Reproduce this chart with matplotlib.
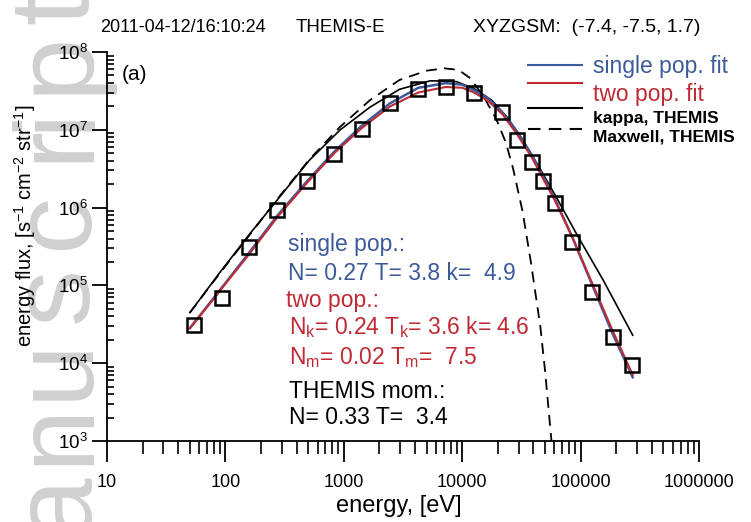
import numpy as np
import matplotlib
matplotlib.use("Agg")
import matplotlib.pyplot as plt
from matplotlib.lines import Line2D

plt.rcParams['font.family'] = ['Liberation Sans', 'DejaVu Sans']
plt.rcParams['mathtext.default'] = 'regular'

# ---------------- data ----------------
meas_energy = [54, 93, 158, 273, 489, 826, 1426, 2455, 4236, 7295, 12590,
               21680, 28840, 38900, 47860, 60260, 85110, 125900, 186200, 269200]
meas_flux = [3.1e4, 6.9e4, 3.1e5, 9.3e5, 2.2e6, 4.9e6, 1.02e7, 2.2e7, 3.3e7,
             3.55e7, 2.95e7, 1.7e7, 7.4e6, 3.9e6, 2.2e6, 1.15e6, 3.6e5,
             8.3e4, 2.2e4, 9.5e3]

fit_loge = [1.70, 1.85, 2.0, 2.2, 2.44, 2.69, 2.92, 3.15, 3.39, 3.63, 3.86,
            4.0, 4.1, 4.22, 4.34, 4.46, 4.59, 4.68, 4.78, 4.93, 5.1, 5.27, 5.44]
two_pop_logf = [4.45, 4.73, 5.02, 5.40, 5.88, 6.32, 6.70, 7.02, 7.30, 7.48,
                7.55, 7.54, 7.48, 7.37, 7.20, 6.95, 6.64, 6.38, 6.10, 5.62,
                5.02, 4.42, 3.85]
single_pop_logf = [4.45, 4.74, 5.03, 5.42, 5.90, 6.34, 6.72, 7.05, 7.34, 7.54,
                   7.60, 7.58, 7.51, 7.40, 7.22, 6.98, 6.67, 6.41, 6.12, 5.62,
                   5.00, 4.38, 3.82]

kappa_loge = [1.70, 1.95, 2.21, 2.46, 2.71, 2.97, 3.22, 3.47, 3.73, 3.95, 4.1,
              4.25, 4.38, 4.5, 4.65, 4.8, 4.97, 5.19, 5.44]
kappa_logf = [4.65, 5.16, 5.67, 6.14, 6.61, 7.00, 7.29, 7.52, 7.63, 7.62, 7.53,
              7.38, 7.16, 6.90, 6.52, 6.12, 5.65, 5.07, 4.36]

maxw_loge = [1.70, 1.95, 2.21, 2.46, 2.71, 2.97, 3.22, 3.47, 3.70, 3.85, 3.97,
             4.07, 4.18, 4.29, 4.37, 4.43, 4.51, 4.58, 4.66, 4.70, 4.76]
maxw_logf = [4.65, 5.15, 5.66, 6.15, 6.62, 7.04, 7.38, 7.64, 7.76, 7.79, 7.77,
             7.66, 7.43, 7.13, 6.83, 6.50, 5.95, 5.30, 4.47, 3.90, 2.90]

x_ticks = [10, 100, 1000, 10000, 100000, 1000000]
x_ticklabels = ['10', '100', '1000', '10000', '100000', '1000000']

title_parts = ['2011-04-12/16:10:24', 'THEMIS-E', 'XYZGSM:  (-7.4, -7.5, 1.7)']
legend_labels = ['single pop. fit', 'two pop. fit', 'kappa, THEMIS', 'Maxwell, THEMIS']
info_lines = ['single pop.:', 'N= 0.27 T= 3.8 k=  4.9', 'two pop.:',
              'N$_k$= 0.24 T$_k$= 3.6 k= 4.6', 'N$_m$= 0.02 T$_m$=  7.5',
              'THEMIS mom.:', 'N= 0.33 T=  3.4']

BLUE = '#3d5b9b'
RED = '#c02a35'

W, H = 751, 522
fig = plt.figure(figsize=(W / 100, H / 100), dpi=100)


def fx(px):
    return px / W


def fy(py):
    return 1 - py / H


# watermark (behind everything)
wm_letters = ['a', 'n', 'u', 's', 'c', 'r', 'i', 'p', 't']
wm_centers = [505, 433, 368, 295, 221, 143, 118, 62, 8]
for ch, cy in zip(wm_letters, wm_centers):
    fig.text(fx(87), fy(cy), ch, rotation=90, rotation_mode='anchor',
             ha='center', va='baseline', fontsize=82, color='#d0d0d0',
             zorder=-5)

ax = fig.add_axes([fx(107), fy(441), fx(699) - fx(107), fy(52) - fy(441)])
ax.patch.set_alpha(0)
ax.set_zorder(2)
ax.set_xscale('log')
ax.set_yscale('log')
ax.set_xlim(10, 1e6)
ax.set_ylim(1e3, 1e8)

ax.plot(10 ** np.array(kappa_loge), 10 ** np.array(kappa_logf), color='black', lw=1.2)
ax.plot(10 ** np.array(maxw_loge), 10 ** np.array(maxw_logf), color='black', lw=1.3,
        dashes=(6, 4))
ax.plot(10 ** np.array(fit_loge), 10 ** np.array(single_pop_logf), color=BLUE, lw=1.8)
ax.plot(10 ** np.array(fit_loge), 10 ** np.array(two_pop_logf), color=RED, lw=1.5)
ax.plot(meas_energy, meas_flux, 's', ms=10, mfc='none', mec='black', mew=1.8)

for s in ['top', 'right']:
    ax.spines[s].set_visible(False)
for s in ['left', 'bottom']:
    ax.spines[s].set_linewidth(1.3)

ax.set_xticks(x_ticks)
ax.set_xticklabels(x_ticklabels)
ax.tick_params(axis='x', which='major', direction='out', length=15, width=1.3,
               pad=9, labelsize=13)
ax.tick_params(axis='x', which='minor', direction='out', length=9.5, width=1.2)
ax.tick_params(axis='y', which='major', direction='out', length=11, width=1.3,
               pad=3, labelsize=13.5)
ax.tick_params(axis='y', which='minor', direction='in', length=5, width=1.2)
ax.yaxis.set_minor_locator(matplotlib.ticker.LogLocator(base=10, subs=np.arange(2, 10), numticks=20))
ax.xaxis.set_minor_locator(matplotlib.ticker.LogLocator(base=10, subs=np.arange(2, 10), numticks=20))
ax.xaxis.set_minor_formatter(matplotlib.ticker.NullFormatter())
ax.yaxis.set_minor_formatter(matplotlib.ticker.NullFormatter())

# title
fig.text(fx(100), fy(28), title_parts[0], ha='left', va='center', fontsize=13)
fig.text(fx(340), fy(28), title_parts[1], ha='center', va='center', fontsize=13.5)
fig.text(fx(700), fy(28), title_parts[2], ha='right', va='center', fontsize=14)

# axis labels
fig.text(fx(25), fy(226), 'energy flux, [s$^{-1}$ cm$^{-2}$ str$^{-1}$]', rotation=90,
         ha='center', va='center', fontsize=14.5)
fig.text(fx(399), fy(506), 'energy, [eV]', ha='center', va='center', fontsize=17)

fig.text(fx(122), fy(75), '(a)', ha='left', va='center', fontsize=15)

# legend
leg_line_y = [65, 83, 108, 129]
leg_text_y = [67, 94, 118, 137]
leg_colors = [BLUE, RED, 'black', 'black']
leg_styles = ['-', '-', '-', '--']
leg_sizes = [16.5, 16.5, 12.5, 12.5]
leg_weights = ['normal', 'normal', 'bold', 'bold']
for lab, ly, ty, c, ls, fs, fw in zip(legend_labels, leg_line_y, leg_text_y, leg_colors,
                                      leg_styles, leg_sizes, leg_weights):
    ln = Line2D([fx(528), fx(582)], [fy(ly), fy(ly)], color=c, lw=1.5,
                transform=fig.transFigure)
    if ls == '--':
        ln.set_dashes((6, 4))
    fig.add_artist(ln)
    fig.text(fx(593), fy(ty), lab, color=c, fontsize=fs, fontweight=fw,
             ha='left', va='center')

# parameter text block
info_colors = [BLUE, BLUE, RED, RED, RED, 'black', 'black']
info_x = [288, 288, 286, 289, 289, 289, 289]
info_y = [245, 273, 300, 327, 358, 392, 418]
for t, c, xx, yy in zip(info_lines, info_colors, info_x, info_y):
    fig.text(fx(xx), fy(yy), t, color=c, fontsize=16.5, ha='left', va='center')

fig.savefig('out.png', dpi=100)
